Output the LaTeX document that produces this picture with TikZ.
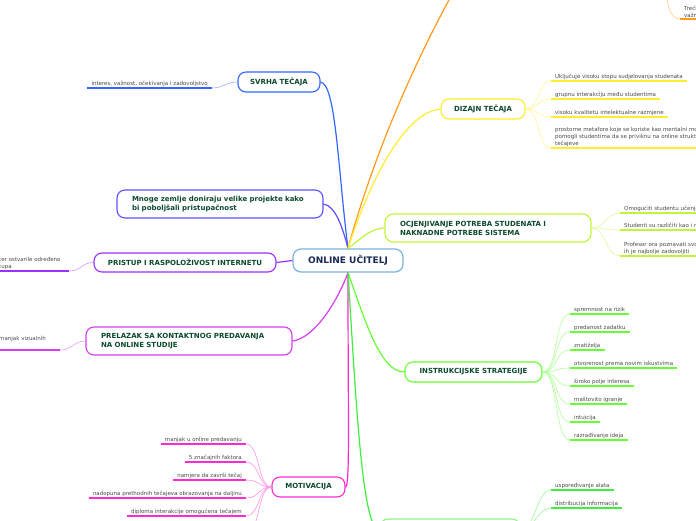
\documentclass[tikz,border=0pt]{standalone}
\usepackage{fontspec}
\setmainfont{DejaVu Sans}
\usepackage{xcolor}
\definecolor{CtrBlue}{HTML}{7AB2E0}
\definecolor{CtrText}{HTML}{1B2A55}
\definecolor{TopicText}{HTML}{0C4A2E}
\definecolor{LeafText}{HTML}{4A4A4A}
\definecolor{OrangeBr}{HTML}{FF9A1A}
\definecolor{SvrhaBlue}{HTML}{3366FF}
\definecolor{MnogeBlue}{HTML}{5E50FF}
\definecolor{PristupPurple}{HTML}{9B30FF}
\definecolor{PrelazakMag}{HTML}{D63CF0}
\definecolor{MotivPink}{HTML}{FF2BD0}
\definecolor{DizajnYellow}{HTML}{FFEE2E}
\definecolor{OcjLime}{HTML}{BFF53A}
\definecolor{InstrGreen}{HTML}{66FF33}
\definecolor{LastGreen}{HTML}{3CF03C}
\tikzset{
  topic/.style={draw=#1, line width=1.1pt, fill=white, rounded corners=8pt, inner sep=0pt, align=center, font=\fontsize{7}{9}\selectfont\bfseries, text=TopicText},
  topicwide/.style={topic=#1, align=left, text width=176pt, inner xsep=15pt, minimum height=28pt},
  leaf/.style={font=\fontsize{5.5}{6.7}\selectfont, text=LeafText, inner xsep=4pt, inner ysep=1.4pt, align=left},
  limb/.style={draw=#1, line width=1.2pt},
  twig/.style={draw=#1!50!white, line width=0.6pt},
  underl/.style={draw=#1, line width=1.6pt}
}
\begin{document}
\begin{tikzpicture}[x=1pt,y=-1pt]
  \useasboundingbox (0,0) rectangle (696,520);
  \fill[white] (0,0) rectangle (696,520);
  \clip (0,0) rectangle (696,520);

  \node[draw=CtrBlue, line width=1.2pt, fill=white, rounded corners=8pt, minimum width=110pt, minimum height=23pt, font=\fontsize{9}{11}\selectfont\bfseries, text=CtrText] (ctr) at (348,260.5) {ONLINE UČITELJ};

  \node[topic=SvrhaBlue, minimum width=82pt, minimum height=20pt] (svrha) at (279,82) {SVRHA TEČAJA};
  \node[topicwide=MnogeBlue] (mnoge) at (220,204) {Mnoge zemlje doniraju velike projekte kako\\bi poboljšali pristupačnost};
  \node[topic=PristupPurple, minimum width=182pt, minimum height=19pt] (pristup) at (185,262.5) {PRISTUP I RASPOLOŽIVOST INTERNETU};
  \node[topicwide=PrelazakMag] (prelazak) at (189,341) {PRELAZAK SA KONTAKTNOG PREDAVANJA\\NA ONLINE STUDIJE};
  \node[topic=MotivPink, minimum width=73pt, minimum height=20pt] (motiv) at (308.5,487) {MOTIVACIJA};
  \node[topic=DizajnYellow, minimum width=84pt, minimum height=20pt] (dizajn) at (483,109) {DIZAJN TEČAJA};
  \node[topicwide=OcjLime] (ocj) at (488,228) {OCJENJIVANJE POTREBA STUDENATA I\\NAKNADNE POTREBE SISTEMA};
  \node[topic=InstrGreen, minimum width=137pt, minimum height=20pt] (instr) at (473.5,372) {INSTRUKCIJSKE STRATEGIJE};
  \node[topic=LastGreen!60!white, minimum width=140pt, minimum height=22pt] (lastbox) at (450,530) {};
  \coordinate (orgtop) at (490,-70);
  \coordinate (orghub) at (663,-30);

  \draw[limb=SvrhaBlue] (ctr.north) .. controls (338,170) and (336,84) .. (svrha.east);
  \draw[limb=MnogeBlue] (ctr.north) .. controls (342,225) and (335,206) .. (mnoge.east);
  \draw[limb=PristupPurple] (ctr.west) -- (pristup.east);
  \draw[limb=PrelazakMag] (ctr.south) .. controls (338,300) and (315,338) .. (prelazak.east);
  \draw[limb=MotivPink] (ctr.south) .. controls (348,420) and (350,487) .. (motiv.east);
  \draw[limb=OrangeBr] (ctr.north) .. controls (372,160) and (420,40) .. (orgtop);
  \draw[limb=DizajnYellow] (ctr.north) .. controls (370,180) and (405,112) .. (dizajn.west);
  \draw[limb=OcjLime] (ctr.north) .. controls (360,240) and (370,228) .. (ocj.west);
  \draw[limb=InstrGreen] (ctr.south) .. controls (365,320) and (380,372) .. (instr.west);
  \draw[limb=LastGreen] (ctr.south) .. controls (356,400) and (362,530) .. (lastbox.west);

  % lijeva strana
  \node[leaf, anchor=south east] (svrha1) at (212,88) {interes, važnost, očekivanja i zadovoljstvo};
  \draw[underl=SvrhaBlue] (svrha1.south west) -- (svrha1.south east);
  \draw[twig=SvrhaBlue] (svrha.west) .. controls +(-12,0) and +(12,0) .. (svrha1.south east);

  \node[leaf, anchor=south west, text width=66pt] (pristup1) at (-5,271) {ter ostvarile određeno\\tupa};
  \draw[underl=PristupPurple] (pristup1.south west) -- (pristup1.south east);
  \draw[twig=PristupPurple] (pristup.west) .. controls +(-12,0) and +(12,0) .. (pristup1.south east);

  \node[leaf, anchor=south west, text width=57pt, text depth=7.5pt] (prelazak1) at (-5,350) {manjak vizualnih};
  \draw[underl=PrelazakMag] (prelazak1.south west) -- (prelazak1.south east);
  \draw[twig=PrelazakMag] (prelazak.west) .. controls +(-12,0) and +(12,0) .. (prelazak1.south east);

  \foreach \i/\yy/\txt in {1/444/manjak u online predavanju, 2/462/5 značajnih faktora, 3/480/namjera da završi tečaj, 4/498/nadopuna prethodnih tečajeva obrazovanja na daljinu, 5/516/diploma interakcije omogućena tečajem} {
    \node[leaf, anchor=south east] (motiv\i) at (246,\yy) {\txt};
    \draw[underl=MotivPink] (motiv\i.south west) -- (motiv\i.south east);
    \draw[twig=MotivPink] (motiv.west) .. controls +(-14,0) and +(14,0) .. (motiv\i.south east);
  }
  \coordinate (motiv6) at (246,534);
  \draw[twig=MotivPink] (motiv.west) .. controls +(-14,0) and +(14,0) .. (motiv6);

  % desna strana
  \node[leaf, anchor=south west] (org1) at (680,19) {Treći\\važni};
  \draw[underl=OrangeBr] (org1.south west) -- (org1.south east);
  \draw[twig=OrangeBr] (orghub) .. controls (666,5) and (670,19) .. (org1.south west);

  \foreach \i/\yy/\txt in {1/81/Uključuje visoku stopu sudjelovanja studenata, 2/99/grupnu interakciju među studentima, 3/117/visoku kvalitetu intelektualne razmjene, 4/148/{prostorne metafore koje se koriste kao mentalni modeli kako bi\\pomogli studentima da se priviknu na online strukturirane\\tečajeve}} {
    \node[leaf, anchor=south west] (dizajn\i) at (551,\yy) {\txt};
    \draw[underl=DizajnYellow] (dizajn\i.south west) -- (dizajn\i.south east);
    \draw[twig=DizajnYellow] (dizajn.east) .. controls +(14,0) and +(-14,0) .. (dizajn\i.south west);
  }

  \foreach \i/\yy/\txt in {1/213/Omogućiti studentu učenje, 2/230/Studenti su različiti kao i njihove potrebe, 3/256/{Profesor ora poznavati svoje studente\\ih je najbolje zadovoljiti}} {
    \node[leaf, anchor=south west, text width=200pt] (ocj\i) at (620,\yy) {\txt};
    \draw[underl=OcjLime] (ocj\i.south west) -- (ocj\i.south east);
    \draw[twig=OcjLime] (ocj.east) .. controls +(14,0) and +(-14,0) .. (ocj\i.south west);
  }

  \foreach \i/\yy/\txt in {1/314/spremnost na rizik, 2/332/predanost zadatku, 3/350/znatiželja, 4/368/otvorenost prema novim iskustvima, 5/386/široko polje interesa, 6/404/maštovito igranje, 7/422/intuicija, 8/440/razrađivanje ideja} {
    \node[leaf, anchor=south west] (instr\i) at (570,\yy) {\txt};
    \draw[underl=InstrGreen] (instr\i.south west) -- (instr\i.south east);
    \draw[twig=InstrGreen] (instr.east) .. controls +(16,0) and +(-16,0) .. (instr\i.south west);
  }

  \foreach \i/\yy/\txt in {1/490/uspoređivanje alata, 2/508/distribucija informacija} {
    \node[leaf, anchor=south west] (last\i) at (551,\yy) {\txt};
    \draw[underl=LastGreen] (last\i.south west) -- (last\i.south east);
    \draw[twig=LastGreen] (lastbox.east) .. controls +(14,0) and +(-14,0) .. (last\i.south west);
  }
  \coordinate (last3) at (551,526);
  \draw[twig=LastGreen] (lastbox.east) .. controls +(14,0) and +(-14,0) .. (last3);
\end{tikzpicture}
\end{document}
